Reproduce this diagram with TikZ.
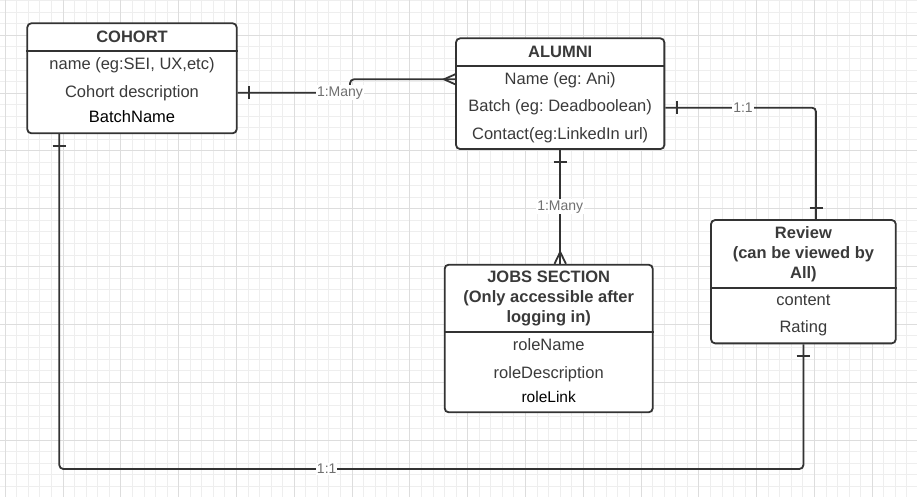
\documentclass[tikz,border=0pt]{standalone}
\usepackage{fontspec}
\setmainfont{Liberation Sans}
\frenchspacing
\definecolor{linegray}{HTML}{333333}
\definecolor{textgray}{HTML}{3A3A3A}
\definecolor{labelgray}{HTML}{707070}
\definecolor{minorgray}{HTML}{EEEEEE}
\definecolor{majorgray}{HTML}{DDDDDD}
\tikzset{
  entity/.style={draw=linegray,line width=1.8pt,rounded corners=4pt,fill=white,inner sep=0pt},
  title/.style={font=\fontsize{16.5}{20}\selectfont\bfseries,text=textgray,align=center},
  field/.style={font=\fontsize{16.5}{20}\selectfont,text=textgray,text height=13pt,text depth=2pt,inner sep=0pt},
  keyfield/.style={field,text=black},
  divider/.style={draw=linegray,line width=1.8pt},
  conn/.style={draw=linegray,line width=1.8pt,rounded corners=4pt},
  relmark/.style={draw=linegray,line width=1.8pt},
  rel/.style={font=\fontsize{14}{16}\selectfont,text=labelgray,fill=white,inner sep=1pt},
  minorline/.style={draw=minorgray,line width=1pt},
  majorline/.style={draw=majorgray,line width=1pt}
}
\begin{document}
\begin{tikzpicture}[x=1pt,y=-1pt]
  \useasboundingbox (0,0) rectangle (917,497);
  \clip (0,0) rectangle (917,497);

  % Background grid
  \fill[white] (0,0) rectangle (917,497);
  \foreach \i in {0,...,79}
    \draw[minorline] ({5.3+11.56*\i},0) -- ++(0,497);
  \foreach \j in {0,...,42}
    \draw[minorline] (0,{0.72+11.56*\j}) -- ++(917,0);
  \foreach \i in {0,...,15}
    \draw[majorline] ({5.3+57.8*\i},0) -- ++(0,497);
  \foreach \j in {0,...,7}
    \draw[majorline] (0,{35.4+57.8*\j}) -- ++(917,0);

  % Entity boxes
  \node[entity,minimum width=209.4pt,minimum height=110pt] (cohort) at (132,78.3) {};
  \node[entity,minimum width=208.3pt,minimum height=110.7pt] (alumni) at (560.2,93.7) {};
  \node[entity,minimum width=208pt,minimum height=147.6pt] (jobs) at (548.7,338.5) {};
  \node[entity,minimum width=184.7pt,minimum height=123.3pt] (review) at (803.4,281.7) {};

  % Header dividers
  \draw[divider] (cohort.west |- 0,50.7) -- (cohort.east |- 0,50.7);
  \draw[divider] (alumni.west |- 0,65.7) -- (alumni.east |- 0,65.7);
  \draw[divider] (jobs.west |- 0,331.7) -- (jobs.east |- 0,331.7);
  \draw[divider] (review.west |- 0,288.3) -- (review.east |- 0,288.3);

  % Titles
  \node[title] (cohorttitle) at (132,37.2) {COHORT};
  \node[title] (alumnititle) at (560.2,51.7) {ALUMNI};
  \node[title] (jobstitle) at (548.7,298.8) {JOBS SECTION\\(Only accessible after\\logging in)};
  \node[title] (reviewtitle) at (803.4,253.8) {Review\\(can be viewed by\\All)};

  % Fields
  \node[field] (cname) at (132,64.3) {name (eg:SEI, UX,etc)};
  \node[field] (cdesc) at (132,91.7) {Cohort description};
  \node[keyfield] (cbatch) at (132,116.7) {BatchName};
  \node[field] (aname) at (560.2,79.3) {Name (eg: Ani)};
  \node[field] (abatch) at (560.2,106) {Batch (eg: Deadboolean)};
  \node[field] (acontact) at (560.2,134) {Contact(eg:LinkedIn url)};
  \node[field] (jname) at (548.7,345) {roleName};
  \node[field] (jdesc) at (548.7,373.3) {roleDescription};
  \node[keyfield,font=\fontsize{15.5}{18}\selectfont] (jlink) at (548.7,397.3) {roleLink};
  \node[field] (rcontent) at (803.4,300) {content};
  \node[field] (rrating) at (803.4,327.3) {Rating};

  % Cohort -- Alumni (1:Many)
  \coordinate (ca) at (350,92.7);
  \draw[conn] (cohort.east |- ca) -- (ca) -- (ca |- aname) -- (alumni.west |- aname);
  \draw[relmark] (249,86) -- (249,99.5);
  \draw[relmark] (alumni.west |- 0,74.3) -- (444,79.3) -- (alumni.west |- 0,84.3);
  \node[rel] (carel) at (340,92.7) {1:Many};

  % Alumni -- Review (1:1)
  \coordinate (ar) at (816,107.7);
  \draw[conn] (alumni.east |- ar) -- (ar) -- (ar |- review.north);
  \draw[relmark] (676.7,101) -- (676.7,114.5);
  \draw[relmark] (809.5,207.7) -- (822.5,207.7);
  \node[rel] (arrel) at (743,107.7) {1:1};

  % Alumni -- Jobs (1:Many)
  \coordinate (jf) at (alumni.south |- jobs.north);
  \draw[conn] (alumni.south) -- (jf);
  \draw[relmark] (553.5,161.7) -- (567,161.7);
  \draw[relmark] ([xshift=-5.7pt]jf) -- (560.2,252) -- ([xshift=5.7pt]jf);
  \node[rel] (ajrel) at (560.2,206.7) {1:Many};

  % Cohort -- Review (1:1)
  \coordinate (cr) at (59.3,469);
  \draw[conn] (cr |- cohort.south) -- (cr) -- (cr -| review.south) -- (review.south);
  \draw[relmark] (52.5,145.7) -- (66,145.7);
  \draw[relmark] (796.5,355.7) -- (810,355.7);
  \node[rel] (crrel) at (326.7,469) {1:1};
\end{tikzpicture}
\end{document}
